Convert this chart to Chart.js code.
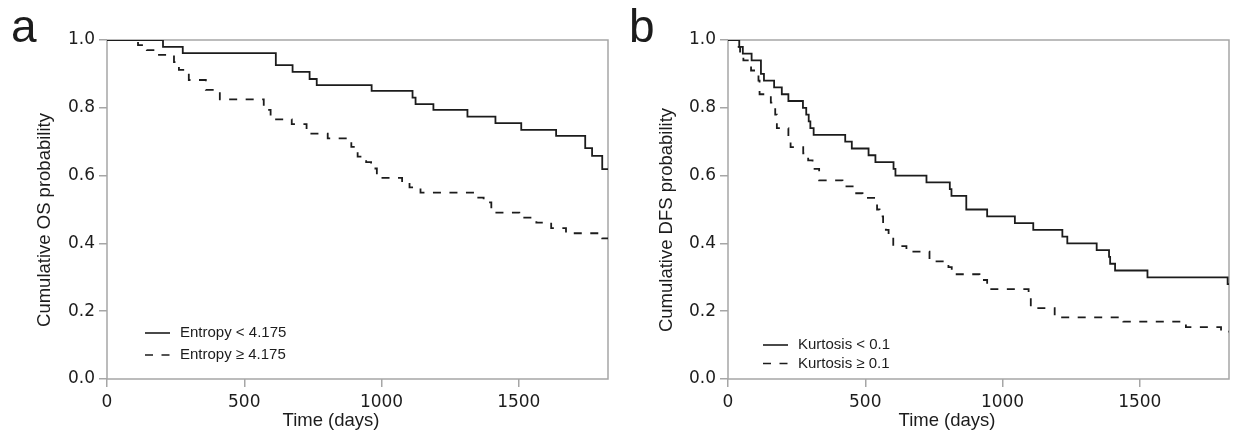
<!DOCTYPE html>
<html>
<head>
<meta charset="utf-8">
<script src="https://cdn.jsdelivr.net/npm/chart.js@4.4.1/dist/chart.umd.min.js"></script>
<style>
  html, body { margin:0; padding:0; background:#fff; }
  #wrap { position:relative; width:1236px; height:435px; }
  .panel { position:absolute; top:0; width:618px; height:435px; }
</style>
</head>
<body>
<div id="wrap">
  <div class="panel" style="left:0"><canvas id="chartA" width="618" height="435"></canvas></div>
  <div class="panel" style="left:618px"><canvas id="chartB" width="618" height="435"></canvas></div>
</div>
<script>
'use strict';

// axes
const xTicks = [0, 500, 1000, 1500];
const yTicks = [0, 0.2, 0.4, 0.6, 0.8, 1.0];
const xMax = 1825;

// panel a: overall survival by entropy
const osLowT  = [0, 204, 276, 615, 676, 738, 764, 964, 1113, 1124, 1189, 1313, 1415, 1509, 1636, 1742, 1767, 1804, 1825];
const osLowS  = [1.0, 0.980, 0.961, 0.926, 0.906, 0.885, 0.867, 0.850, 0.830, 0.811, 0.794, 0.774, 0.755, 0.735, 0.717, 0.681, 0.658, 0.619, 0.619];
const osHighT = [0, 113, 145, 186, 244, 262, 298, 360, 411, 571, 596, 673, 727, 804, 890, 913, 944, 962, 983, 1075, 1102, 1142, 1345, 1372, 1400, 1502, 1564, 1618, 1672, 1804, 1825];
const osHighS = [1.0, 0.985, 0.970, 0.956, 0.935, 0.912, 0.882, 0.853, 0.825, 0.794, 0.766, 0.752, 0.724, 0.710, 0.685, 0.656, 0.640, 0.621, 0.593, 0.580, 0.565, 0.550, 0.535, 0.521, 0.491, 0.476, 0.461, 0.445, 0.430, 0.415, 0.415];

// panel b: disease-free survival by kurtosis
const dfsLowT  = [0, 41, 54, 86, 120, 131, 168, 196, 220, 273, 285, 294, 300, 312, 427, 451, 512, 537, 603, 610, 723, 808, 814, 868, 944, 1045, 1112, 1218, 1236, 1343, 1388, 1392, 1410, 1528, 1820, 1825];
const dfsLowS  = [1.0, 0.98, 0.96, 0.94, 0.90, 0.88, 0.86, 0.84, 0.82, 0.80, 0.78, 0.76, 0.74, 0.72, 0.70, 0.68, 0.66, 0.64, 0.62, 0.60, 0.58, 0.56, 0.54, 0.50, 0.48, 0.46, 0.44, 0.42, 0.40, 0.38, 0.36, 0.34, 0.32, 0.30, 0.28, 0.28];
const dfsHighT = [0, 35, 44, 56, 84, 111, 115, 156, 172, 178, 220, 228, 274, 292, 308, 332, 417, 454, 490, 543, 552, 565, 575, 585, 602, 650, 734, 803, 815, 916, 944, 1095, 1103, 1190, 1440, 1668, 1796, 1825];
const dfsHighS = [1.0, 0.98, 0.96, 0.94, 0.91, 0.88, 0.84, 0.815, 0.78, 0.74, 0.71, 0.684, 0.666, 0.645, 0.62, 0.586, 0.568, 0.548, 0.534, 0.50, 0.48, 0.46, 0.44, 0.42, 0.392, 0.376, 0.347, 0.33, 0.309, 0.292, 0.265, 0.24, 0.209, 0.182, 0.169, 0.153, 0.14, 0.14];

const INK = '#1c1c1c';
const AXIS = '#a6a6a6';
const SANS = '"Liberation Sans", Arial, sans-serif';
const DASH = [8, 8.5];

const pts = (t, s) => t.map((v, i) => ({ x: v, y: s[i] }));

// box, panel letter, axis titles, legend inside the plot
const decor = {
  id: 'decor',
  beforeDatasetsDraw(chart) {
    const { ctx, chartArea: a } = chart;
    ctx.save();
    ctx.strokeStyle = AXIS; ctx.lineWidth = 1.5;
    ctx.strokeRect(a.left, a.top, a.right - a.left, a.bottom - a.top);
    ctx.restore();
  },
  afterDraw(chart, args, o) {
    const ctx = chart.ctx;
    ctx.save();
    ctx.fillStyle = INK;
    ctx.font = `46px ${SANS}`;
    ctx.textAlign = 'left'; ctx.textBaseline = 'alphabetic';
    ctx.fillText(o.letter, o.letterX, 42);

    ctx.font = `18.5px ${SANS}`;
    ctx.textAlign = 'center'; ctx.textBaseline = 'middle';
    ctx.fillText(o.xTitle, o.xTitleX, 421);
    ctx.save();
    ctx.translate(o.yTitleX, 220); ctx.rotate(-Math.PI / 2);
    ctx.fillText(o.yTitle, 0, 0);
    ctx.restore();

    // legend
    ctx.font = `15px ${SANS}`;
    ctx.textAlign = 'left';
    chart.data.datasets.forEach((ds, i) => {
      const y = o.legendY[i];
      ctx.strokeStyle = ds.borderColor; ctx.lineWidth = 1.6;
      ctx.setLineDash(ds.borderDash || []);
      ctx.beginPath(); ctx.moveTo(145, y); ctx.lineTo(170, y); ctx.stroke();
      ctx.setLineDash([]);
      ctx.fillText(ds.label, 180, y);
    });
    ctx.restore();
  }
};

function makeChart(id, sets, labels, deco, yWidth, padRight) {
  const ctx = document.getElementById(id).getContext('2d');
  return new Chart(ctx, {
    type: 'line',
    data: {
      datasets: [
        { label: labels[0], data: pts(sets[0], sets[1]), borderColor: INK, borderWidth: 1.8, stepped: true, pointRadius: 0, fill: false },
        { label: labels[1], data: pts(sets[2], sets[3]), borderColor: INK, borderWidth: 1.8, borderDash: DASH, stepped: true, pointRadius: 0, fill: false },
      ]
    },
    options: {
      responsive: false, animation: false, devicePixelRatio: 1,
      layout: { padding: { left: 0, right: padRight, top: 40, bottom: 0 } },
      plugins: { legend: { display: false }, tooltip: { enabled: false }, decor: deco },
      scales: {
        x: {
          type: 'linear', min: 0, max: xMax,
          afterBuildTicks: s => { s.ticks = xTicks.map(v => ({ value: v })); },
          afterFit: s => { s.height = 56; },
          border: { display: false },
          grid: { drawOnChartArea: false, tickLength: 8, color: AXIS, lineWidth: 1.5 },
          ticks: { color: INK, padding: 5, maxRotation: 0, font: { family: 'DejaVu Sans', size: 17 }, callback: v => String(v) },
        },
        y: {
          type: 'linear', min: 0, max: 1,
          afterBuildTicks: s => { s.ticks = yTicks.map(v => ({ value: v })); },
          afterFit: s => { s.width = yWidth; },
          border: { display: false },
          grid: { drawOnChartArea: false, tickLength: 8, color: AXIS, lineWidth: 1.5 },
          ticks: { color: INK, padding: 4, font: { family: 'DejaVu Sans', size: 17 }, callback: v => v.toFixed(1) },
        }
      }
    },
    plugins: [decor]
  });
}

makeChart('chartA', [osLowT, osLowS, osHighT, osHighS], ['Entropy < 4.175', 'Entropy \u2265 4.175'],
  { letter: 'a', letterX: 11, xTitle: 'Time (days)', xTitleX: 331, yTitle: 'Cumulative OS probability', yTitleX: 45, legendY: [333, 355] },
  107, 10);

makeChart('chartB', [dfsLowT, dfsLowS, dfsHighT, dfsHighS], ['Kurtosis < 0.1', 'Kurtosis \u2265 0.1'],
  { letter: 'b', letterX: 11, xTitle: 'Time (days)', xTitleX: 329, yTitle: 'Cumulative DFS probability', yTitleX: 49, legendY: [345, 363.5] },
  110, 7);
</script>
</body>
</html>
